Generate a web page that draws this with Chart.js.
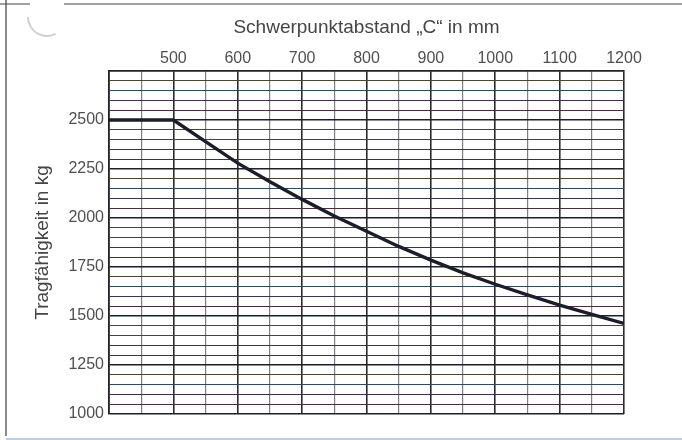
<!DOCTYPE html>
<html lang="de">
<head>
<meta charset="utf-8">
<title>Tragfähigkeit</title>
<script src="https://cdn.jsdelivr.net/npm/chart.js@4.4.1/dist/chart.umd.min.js"></script>
<style>
    html, body { margin: 0; padding: 0; background: #fff; }
    #chart { display: block; }
</style>
</head>
<body>
<canvas id="chart" width="682" height="440"></canvas>
<script>
// Schwerpunktabstand C (mm) and Tragfähigkeit (kg)
const abstandMm = [400, 500, 550, 600, 650, 700, 750, 800, 850, 900, 950, 1000, 1050, 1100, 1150, 1200];
const lastKg = [2500, 2500, 2390, 2280, 2185, 2095, 2010, 1932, 1855, 1785, 1720, 1662, 1608, 1556, 1508, 1462];

// labelled ticks (grid itself runs every 50)
const xTickLabels = [500, 600, 700, 800, 900, 1000, 1100, 1200];
const yTickLabels = [1000, 1250, 1500, 1750, 2000, 2250, 2500];

// thin horizontal lines in the scan are dark with slightly different ink tints
const minorTints = ['#2f3462', '#4b2d3a', '#3a305c', '#2d4767', '#4a4431'];

const points = abstandMm.map((x, i) => ({ x: x, y: lastKg[i] }));

// page frame of the scanned sheet (left edge, top rule with punch hole, bottom rule)
const framePlugin = {
    id: 'frame',
    beforeDraw(chart) {
        const c = chart.ctx;
        c.save();
        c.fillStyle = '#ffffff';
        c.fillRect(0, 0, chart.width, chart.height);
        c.strokeStyle = '#5a5a5a';
        c.lineWidth = 1.4;
        c.beginPath();
        c.moveTo(6, 0);
        c.lineTo(6, 436);
        c.stroke();
        c.strokeStyle = '#3d4258';
        c.lineWidth = 1.2;
        c.beginPath();
        c.moveTo(0, 4);
        c.lineTo(30, 4);
        c.moveTo(64, 4);
        c.lineTo(682, 4);
        c.stroke();
        c.strokeStyle = '#a9c0cf';
        c.lineWidth = 1.5;
        c.beginPath();
        c.moveTo(6, 439);
        c.lineTo(682, 439);
        c.stroke();
        // faint shadow of the punch hole
        c.strokeStyle = 'rgba(150,150,160,0.45)';
        c.lineWidth = 2;
        c.beginPath();
        c.arc(47, 17, 19, 0.35 * Math.PI, 1.0 * Math.PI);
        c.stroke();
        c.restore();
    }
};

new Chart(document.getElementById('chart'), {
    type: 'line',
    data: {
        datasets: [{
            data: points,
            borderColor: '#1c1d2b',
            borderWidth: 3.4,
            pointRadius: 0,
            tension: 0,
            fill: false
        }]
    },
    options: {
        responsive: false,
        animation: false,
        devicePixelRatio: 1,
        layout: { padding: { left: 0, top: 0, right: 58, bottom: 26 } },
        plugins: {
            legend: { display: false },
            tooltip: { enabled: false }
        },
        scales: {
            x: {
                type: 'linear',
                position: 'top',
                min: 400,
                max: 1200,
                afterFit(scale) { scale.height = 71; },
                ticks: {
                    stepSize: 50,
                    autoSkip: false,
                    maxRotation: 0,
                    padding: 3,
                    color: '#505050',
                    font: { family: 'Liberation Sans, Arial, sans-serif', size: 16 },
                    callback: (v) => xTickLabels.includes(Math.round(v)) ? String(Math.round(v)) : ''
                },
                grid: {
                    drawTicks: false,
                    color: (ctx) => (ctx.tick && Math.round(ctx.tick.value) % 100 === 0) ? '#2b2b2e' : '#7e7e84',
                    lineWidth: (ctx) => (ctx.tick && Math.round(ctx.tick.value) % 100 === 0) ? 1.6 : 1.2
                },
                border: { color: '#222', width: 1.6 },
                title: {
                    display: true,
                    text: 'Schwerpunktabstand „C“ in mm',
                    color: '#454545',
                    font: { family: 'Liberation Sans, Arial, sans-serif', size: 19 },
                    padding: { top: 16, bottom: 0 }
                }
            },
            y: {
                type: 'linear',
                min: 1000,
                max: 2750,
                afterFit(scale) { scale.width = 109; },
                ticks: {
                    stepSize: 50,
                    autoSkip: false,
                    padding: 5,
                    color: '#505050',
                    font: { family: 'Liberation Sans, Arial, sans-serif', size: 16 },
                    callback: (v) => yTickLabels.includes(Math.round(v)) ? String(Math.round(v)) : ''
                },
                grid: {
                    drawTicks: false,
                    color: (ctx) => {
                        if (!ctx.tick) return '#333';
                        const v = Math.round(ctx.tick.value);
                        if (v % 250 === 0) return '#1d1f2c';
                        return minorTints[ctx.index % minorTints.length];
                    },
                    lineWidth: (ctx) => (ctx.tick && Math.round(ctx.tick.value) % 250 === 0) ? 1.6 : 1.1
                },
                border: { color: '#222', width: 1.6 },
                title: {
                    display: true,
                    text: 'Tragfähigkeit in kg',
                    color: '#454545',
                    font: { family: 'Liberation Sans, Arial, sans-serif', size: 19 },
                    padding: { top: 31, bottom: 0 }
                }
            }
        }
    },
    plugins: [framePlugin]
});
</script>
</body>
</html>
